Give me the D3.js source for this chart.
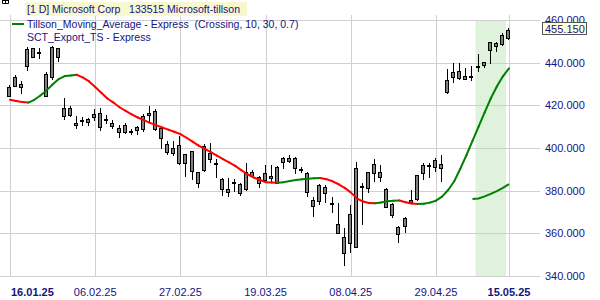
<!DOCTYPE html>
<html>
<head>
<meta charset="utf-8">
<script src="https://cdn.jsdelivr.net/npm/d3@7"></script>
<style>
  body { margin: 0; background: #fff; }
  svg { display: block; font-family: "Liberation Sans", Arial, sans-serif; }
  .lbl { fill: #141480; font-size: 11px; white-space: pre; }
  .leg { font-size: 10.5px; }
</style>
</head>
<body>
<svg id="chart" width="600" height="300"></svg>
<script>
// trading days shown on the chart
var dates = ("16.01.25 17.01.25 21.01.25 22.01.25 23.01.25 24.01.25 27.01.25 28.01.25 29.01.25 30.01.25 31.01.25 " +
    "03.02.25 04.02.25 05.02.25 06.02.25 07.02.25 10.02.25 11.02.25 12.02.25 13.02.25 14.02.25 18.02.25 19.02.25 " +
    "20.02.25 21.02.25 24.02.25 25.02.25 26.02.25 27.02.25 28.02.25 " +
    "03.03.25 04.03.25 05.03.25 06.03.25 07.03.25 10.03.25 11.03.25 12.03.25 13.03.25 14.03.25 17.03.25 18.03.25 " +
    "19.03.25 20.03.25 21.03.25 24.03.25 25.03.25 26.03.25 27.03.25 28.03.25 31.03.25 " +
    "01.04.25 02.04.25 03.04.25 04.04.25 07.04.25 08.04.25 09.04.25 10.04.25 11.04.25 14.04.25 15.04.25 16.04.25 " +
    "17.04.25 21.04.25 22.04.25 23.04.25 24.04.25 25.04.25 28.04.25 29.04.25 30.04.25 " +
    "01.05.25 02.05.25 05.05.25 06.05.25 07.05.25 08.05.25 09.05.25 12.05.25 13.05.25 14.05.25 15.05.25").split(" ");

var open = [428.7, 433.5, 430.2, 438.5, 442.6, 445.0, 424.2, 433.5, 446.7, 418.6, 418.9,
    411.9, 412.9, 412.0, 414.4, 416.5, 413.6, 410.3, 407.7, 407.7, 407.8, 408.4, 408.8,
    415.6, 417.2, 409.2, 401.7, 397.8, 401.2, 393.1,
    398.6, 383.4, 389.7, 394.7, 392.6, 385.3, 379.5, 383.5, 383.0, 380.6, 387.0, 386.6,
    385.0, 385.8, 383.4, 395.2, 394.0, 395.2, 390.2, 388.1, 372.8,
    375.2, 378.8, 374.3, 364.2, 350.9, 369.1, 353.8, 382.2, 381.1, 392.5, 388.6, 380.6,
    373.6, 362.8, 363.4, 375.6, 376.1, 388.1, 391.6, 391.3, 390.5,
    431.9, 433.4, 432.7, 432.2, 433.6, 438.4, 440.2, 445.9, 448.0, 448.6, 451.4];
var high = [429.4, 434.0, 431.5, 447.3, 447.0, 446.7, 435.8, 448.0, 446.9, 423.3, 419.7,
    415.2, 414.4, 414.2, 418.1, 418.6, 415.5, 413.1, 410.8, 411.5, 408.9, 410.5, 415.9,
    419.7, 418.1, 410.0, 403.4, 403.3, 405.6, 397.2,
    398.8, 388.8, 401.9, 402.2, 394.7, 385.8, 385.8, 385.3, 383.5, 392.8, 389.7, 387.0,
    392.0, 392.0, 391.6, 395.6, 396.7, 395.6, 391.3, 388.9, 376.9,
    383.1, 382.7, 377.2, 374.4, 362.3, 373.3, 393.6, 383.8, 388.9, 394.7, 392.0, 381.1,
    374.1, 363.4, 367.5, 380.3, 387.4, 392.8, 392.8, 395.2, 396.7,
    436.9, 439.7, 439.7, 437.3, 438.6, 443.9, 440.5, 449.8, 449.8, 453.8, 456.1];
var low = [424.4, 428.5, 425.5, 436.0, 442.0, 441.5, 423.7, 432.0, 440.5, 413.1, 414.7,
    408.7, 410.3, 410.5, 412.8, 408.1, 411.2, 409.0, 404.5, 406.6, 406.1, 406.1, 407.4,
    412.3, 408.1, 399.4, 396.7, 396.3, 392.0, 386.6,
    385.0, 381.1, 388.9, 393.1, 385.8, 377.5, 376.9, 379.5, 377.5, 380.0, 386.6, 381.1,
    384.7, 384.2, 383.1, 390.0, 393.1, 387.8, 388.1, 376.9, 367.5,
    373.3, 374.4, 369.4, 360.3, 344.7, 350.6, 353.4, 363.9, 378.8, 384.2, 384.2, 371.7,
    367.0, 355.6, 360.3, 374.1, 375.2, 385.0, 385.8, 388.9, 384.2,
    425.2, 430.3, 431.9, 431.9, 431.4, 435.5, 437.3, 439.2, 445.2, 448.0, 450.6];
var close = [424.6, 429.0, 428.5, 446.2, 446.7, 444.3, 434.6, 447.4, 442.8, 415.0, 415.5,
    411.0, 412.5, 413.6, 416.0, 410.0, 413.2, 411.9, 409.4, 410.9, 408.2, 409.7, 415.0,
    416.6, 408.8, 404.5, 398.3, 399.8, 393.1, 397.2,
    389.4, 388.6, 401.1, 397.5, 393.2, 380.6, 380.8, 383.9, 379.1, 388.6, 388.6, 383.8,
    388.1, 386.9, 391.3, 393.6, 395.2, 390.5, 390.0, 379.2, 375.6,
    382.7, 381.9, 373.9, 360.3, 358.1, 355.3, 390.5, 381.7, 388.6, 388.1, 386.3, 372.2,
    368.6, 359.5, 367.0, 374.8, 387.3, 392.0, 392.2, 394.4, 392.5,
    426.1, 435.5, 436.1, 433.7, 433.9, 438.1, 438.9, 449.5, 449.1, 453.0, 455.15];

// Tillson moving average, one value per day
var tillson = [422.6, 422.0, 421.6, 421.3, 422.6, 424.6, 427.0, 429.8, 432.3, 433.7, 434.0,
    434.3, 433.0, 431.2, 428.6, 425.9, 423.2, 421.3, 419.1, 417.4, 415.8, 414.3, 413.1,
    411.8, 410.7, 409.6, 408.6, 407.6, 406.5, 404.8,
    403.0, 401.1, 399.6, 398.1, 396.4, 394.8, 393.3, 391.6, 389.6, 387.7, 386.2, 385.1,
    384.0, 383.8, 383.7, 384.0, 384.5, 385.0, 385.3, 385.6, 385.8,
    385.9, 385.4, 384.4, 383.0, 381.3, 379.2, 376.4, 374.9, 374.2, 374.1, 374.5, 375.0,
    375.3, 375.4, 374.6, 374.0, 373.7, 373.9, 374.4, 375.3, 377.2,
    380.3, 384.4, 390.3, 396.6, 403.3, 410.0, 416.7, 423.2, 428.8, 433.6, 437.3];

// SCT_Export_TS only exists for the last days
var sctStart = "07.05.25";
var sct = [376.1, 376.3, 377.3, 378.5, 379.8, 381.3, 383.1];

var bandFrom = "08.05.25", bandTo = "14.05.25";
var yTicks = [340, 360, 380, 400, 420, 440, 460];
var xTicks = ["16.01.25", "06.02.25", "27.02.25", "19.03.25", "08.04.25", "29.04.25", "15.05.25"];
var boldTicks = ["16.01.25", "15.05.25"];
var lastPrice = 455.15;

var svg = d3.select("#chart");
var x = d3.scalePoint().domain(dates).range([10, 509]);
var y = d3.scaleLinear().domain([340, 460]).range([276, 20]);
var px = function (v) { return Math.round(v) + 0.5; };
var step = x.step();

// highlighted band
svg.append("rect")
    .attr("x", x(bandFrom) - step / 2)
    .attr("y", y(460))
    .attr("width", x(bandTo) - x(bandFrom) + step)
    .attr("height", y(340) - y(460) + 1)
    .attr("fill", "#dff2dc");

// grid
svg.selectAll(".hgrid").data(yTicks).enter().append("line")
    .attr("x1", 0).attr("x2", 540)
    .attr("y1", d => px(y(d))).attr("y2", d => px(y(d)))
    .attr("stroke", "#cfcfcf");
svg.selectAll(".vgrid").data(xTicks).enter().append("line")
    .attr("x1", d => px(x(d))).attr("x2", d => px(x(d)))
    .attr("y1", 15).attr("y2", 277)
    .attr("stroke", "#cfcfcf");

// candles
var idx = d3.range(dates.length);
var candle = svg.selectAll(".candle").data(idx).enter().append("g");
candle.append("line")
    .attr("x1", i => Math.round(x(dates[i])) - 0.5)
    .attr("x2", i => Math.round(x(dates[i])) - 0.5)
    .attr("y1", i => Math.round(y(high[i])))
    .attr("y2", i => Math.round(y(low[i])))
    .attr("stroke", "#000");
candle.append("rect")
    .attr("x", i => Math.round(x(dates[i])) - 2.5)
    .attr("width", 3)
    .attr("y", i => Math.round(y(Math.max(open[i], close[i]))) + 0.5)
    .attr("height", i => Math.max(1, Math.round(y(Math.min(open[i], close[i]))) - Math.round(y(Math.max(open[i], close[i])))))
    .attr("fill", "#808080")
    .attr("stroke", "#000");

// Tillson line, red when falling, green when rising
svg.selectAll(".till").data(d3.pairs(idx)).enter().append("line")
    .attr("x1", d => x(dates[d[0]])).attr("y1", d => y(tillson[d[0]]))
    .attr("x2", d => x(dates[d[1]])).attr("y2", d => y(tillson[d[1]]))
    .attr("stroke", d => tillson[d[1]] < tillson[d[0]] ? "#ff0000" : "#008000")
    .attr("stroke-width", 2)
    .attr("stroke-linecap", "round");

// SCT export line
var s0 = dates.indexOf(sctStart);
svg.append("path")
    .datum(sct)
    .attr("d", d3.line().x((d, i) => x(dates[s0 + i])).y(d => y(d)))
    .attr("fill", "none")
    .attr("stroke", "#008000")
    .attr("stroke-width", 2);

// y axis labels
svg.selectAll(".ylab").data(yTicks).enter().append("text")
    .attr("class", "lbl")
    .attr("x", 545).attr("y", d => y(d) + 4)
    .text(d => d3.format(".3f")(d));

// last price marker
svg.append("rect")
    .attr("x", 542.5).attr("y", Math.round(y(lastPrice)) - 7.5)
    .attr("width", 44).attr("height", 12)
    .attr("fill", "#ffffe1").attr("stroke", "#555");
svg.append("text")
    .attr("class", "lbl")
    .attr("x", 545).attr("y", y(lastPrice) + 2.5)
    .text(d3.format(".3f")(lastPrice));

// x axis labels
svg.selectAll(".xlab").data(xTicks).enter().append("text")
    .attr("class", "lbl")
    .attr("x", (d, i) => i == 0 ? x(d) + 1 : x(d))
    .attr("y", 296)
    .attr("text-anchor", (d, i) => i == 0 ? "start" : "middle")
    .attr("font-weight", d => boldTicks.indexOf(d) >= 0 ? "bold" : "normal")
    .text(d => d);

// legend
svg.append("path")
    .attr("d", "M2.5,-2.5H8.5V3.5H2.5Z M5.5,-2.5V3.5 M2.5,0.5H8.5")
    .attr("fill", "none").attr("stroke", "#000");
svg.append("rect")
    .attr("x", 25).attr("y", 2).attr("width", 222).attr("height", 14)
    .attr("fill", "#f7f7d0");
svg.append("text").attr("class", "lbl leg").attr("x", 27).attr("y", 13)
    .text("[1 D] Microsoft Corp   133515 Microsoft-tillson");
svg.append("line")
    .attr("x1", 12).attr("x2", 24).attr("y1", 24).attr("y2", 24)
    .attr("stroke", "#008000").attr("stroke-width", 2);
svg.append("text").attr("class", "lbl leg").attr("x", 27).attr("y", 28)
    .text("Tillson_Moving_Average - Express  (Crossing, 10, 30, 0.7)");
svg.append("text").attr("class", "lbl leg").attr("x", 27).attr("y", 41)
    .text("SCT_Export_TS - Express");
</script>
</body>
</html>
